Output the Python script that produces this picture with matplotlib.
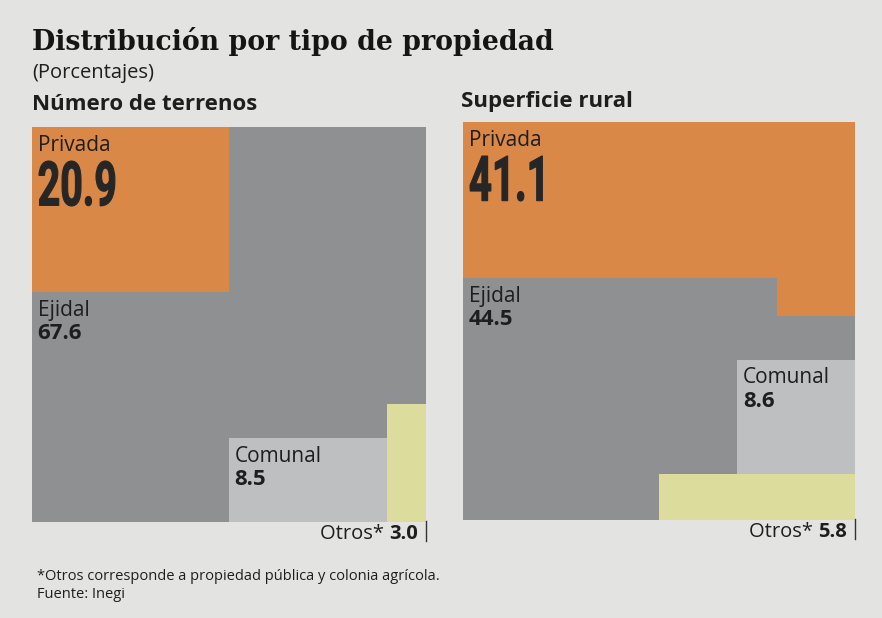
import matplotlib
matplotlib.use("Agg")
import matplotlib.pyplot as plt
from matplotlib.patches import Rectangle, PathPatch
from matplotlib.textpath import TextPath
from matplotlib.font_manager import FontProperties
from matplotlib.transforms import Affine2D

labels = ['Privada', 'Ejidal', 'Comunal', 'Otros*']
terrenos = [20.9, 67.6, 8.5, 3.0]
superficie = [41.1, 44.5, 8.6, 5.8]

c_priv = '#D98848'
c_ejid = '#8F9092'
c_comu = '#BEBFC1'
c_otro = '#DCDC9C'
bg = '#E3E3E1'
ink = '#1E1E1E'
sans = 'Open Sans'

W, H = 882, 618
fig = plt.figure(figsize=(W / 100, H / 100), dpi=100, facecolor=bg)

ax1 = fig.add_axes([32 / W, 96 / H, 394 / W, 395 / H])
ax2 = fig.add_axes([463 / W, 98 / H, 392 / W, 398 / H])
for ax in (ax1, ax2):
    ax.set_xlim(0, 10)
    ax.set_ylim(0, 10)
    ax.axis('off')


def big_number(ax, s, x, y):
    # condensed bold figure, top-left anchored at data point (x, y)
    fp = FontProperties(family='Roboto', weight='bold')
    tp = TextPath((0, 0), s, size=1, prop=fp)
    bb = tp.get_extents()
    sy = 45 / bb.height
    sx = sy * 0.64
    px, py = ax.transData.transform((x, y))
    tr = Affine2D().translate(-bb.x0, -bb.y1).scale(sx, sy).translate(px + 7, py - 34)
    fig.add_artist(PathPatch(tp, transform=tr, facecolor='#262626',
                             edgecolor='#262626', lw=0.8))


def label(ax, name, val, x, y, bold_big=False):
    ax.annotate(name, xy=(x, y), xytext=(4, -5.5), textcoords='offset points',
                ha='left', va='top', fontsize=15, family=sans, color=ink)
    if bold_big:
        big_number(ax, val, x, y)
    else:
        ax.annotate(val, xy=(x, y), xytext=(4, -22.5), textcoords='offset points',
                    ha='left', va='top', fontsize=16, family=sans,
                    weight='bold', color=ink)


def otros(ax, val):
    t = ax.text(9.8, -0.3, val, ha='right', va='center', fontsize=14.5,
                family=sans, weight='bold', color=ink)
    ax.annotate('Otros* ', xy=(0, 0.5), xycoords=t, ha='right', va='center',
                fontsize=14.5, family=sans, color=ink)
    ax.plot([10, 10], [0.02, -0.48], color='#333333', lw=1, clip_on=False)


# --- Número de terrenos ---
p, e, c, o = terrenos
ax1.add_patch(Rectangle((0, 0), 10, 10, color=c_ejid, lw=0))
wp = 5.0
ax1.add_patch(Rectangle((0, 10 - p / wp), wp, p / wp, color=c_priv, lw=0))
wo = 1.0
ax1.add_patch(Rectangle((10 - wo, 0), wo, o / wo, color=c_otro, lw=0))
wc = 4.0
ax1.add_patch(Rectangle((10 - wo - wc, 0), wc, c / wc, color=c_comu, lw=0))
label(ax1, labels[0], f'{p:.1f}', 0, 10, bold_big=True)
label(ax1, labels[1], f'{e:.1f}', 0, 10 - p / wp)
label(ax1, labels[2], f'{c:.1f}', 10 - wo - wc, c / wc)
otros(ax1, f'{o:.1f}')

# --- Superficie rural ---
p, e, c, o = superficie
ax2.add_patch(Rectangle((0, 0), 10, 10, color=c_ejid, lw=0))
nw, nh = 2.0, 0.95
band = (p - nw * nh) / 10
ax2.add_patch(Rectangle((0, 10 - band), 10, band, color=c_priv, lw=0))
ax2.add_patch(Rectangle((10 - nw, 10 - band - nh), nw, nh + 0.01, color=c_priv, lw=0))
wo = 5.0
ax2.add_patch(Rectangle((10 - wo, 0), wo, o / wo, color=c_otro, lw=0))
wc = 3.0
ax2.add_patch(Rectangle((10 - wc, o / wo), wc, c / wc, color=c_comu, lw=0))
label(ax2, labels[0], f'{p:.1f}', 0, 10, bold_big=True)
label(ax2, labels[1], f'{e:.1f}', 0, 10 - band)
label(ax2, labels[2], f'{c:.1f}', 10 - wc, o / wo + c / wc)
otros(ax2, f'{o:.1f}')

# --- texts ---
fig.text(32 / W, 1 - 41 / H, 'Distribución por tipo de propiedad', ha='left', va='center',
         fontsize=19.3, family='DejaVu Serif', weight='bold', color='#151515')
fig.text(32 / W, 1 - 73 / H, '(Porcentajes)', ha='left', va='center',
         fontsize=14.5, family=sans, color=ink)
fig.text(32 / W, 1 - 104 / H, 'Número de terrenos', ha='left', va='center',
         fontsize=16, family=sans, weight='bold', color=ink)
fig.text(461 / W, 1 - 102 / H, 'Superficie rural', ha='left', va='center',
         fontsize=16, family=sans, weight='bold', color=ink)
fig.text(37 / W, 1 - 576 / H, '*Otros corresponde a propiedad pública y colonia agrícola.',
         ha='left', va='center', fontsize=10.5, family=sans, color=ink)
fig.text(37 / W, 1 - 595 / H, 'Fuente: Inegi', ha='left', va='center',
         fontsize=10.5, family=sans, color=ink)

fig.savefig('out.png', dpi=100, facecolor=bg)
